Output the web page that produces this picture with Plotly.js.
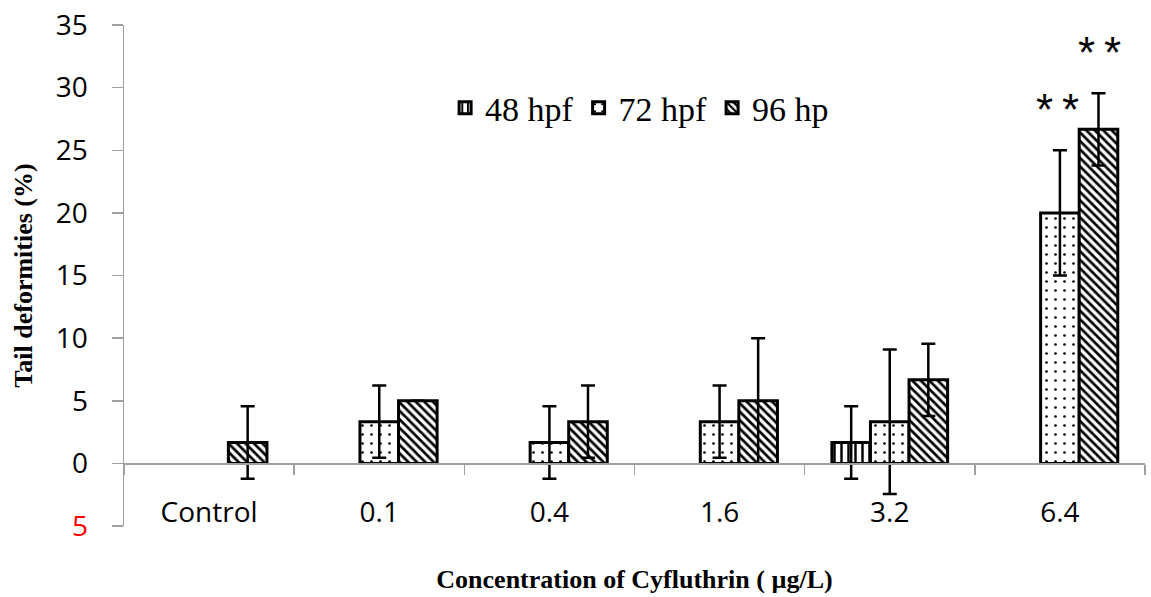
<!DOCTYPE html>
<html>
<head>
<meta charset="utf-8">
<script src="https://cdn.plot.ly/plotly-3.0.1.min.js"></script>
<style>html,body{margin:0;padding:0;background:#fff;}#chart{width:1151px;height:597px;}</style>
</head>
<body>
<div id="chart"></div>
<script>
// ---- data ----
const categories = ["Control", "0.1", "0.4", "1.6", "3.2", "6.4"];
const seriesNames = ["48 hpf", "72 hpf", "96 hp"];
const hpf48 = [0, 0, 0, 0, 1.67, 0];
const hpf72 = [0, 3.33, 1.67, 3.33, 3.33, 20];
const hpf96 = [1.67, 5, 3.33, 5, 6.67, 26.67];
const err48 = [null, null, null, null, 2.89, null];
const err72 = [null, 2.89, 2.89, 2.89, 5.77, 5];
const err96 = [2.89, null, 2.89, 5, 2.89, 2.89];
const yTickVals = [-5, 0, 5, 10, 15, 20, 25, 30, 35];
const yTickText = ['<span style="color:#ff0000">5</span>', "0", "5", "10", "15", "20", "25", "30", "35"];
const sigCategory = ["6.4", "6.4"];
const sigSeries = [1, 2];
const sigText = ["*\u2009*", "*\u2009*"];

const patterns = [
  {shape: "|", size: 7, solidity: 0.35, fgcolor: "#000", bgcolor: "#fff", fillmode: "replace"},
  {shape: ".", size: 9, solidity: 0.07, fgcolor: "#000", bgcolor: "#fff", fillmode: "replace"},
  {shape: "\\", size: 6, solidity: 0.45, fgcolor: "#000", bgcolor: "#fff", fillmode: "replace"}
];
const values = [hpf48, hpf72, hpf96];
const errs = [err48, err72, err96];

const traces = values.map((vals, i) => ({
  type: "bar",
  name: seriesNames[i],
  x: categories,
  // a 0 % value draws no bar in the reference
  y: vals.map(v => v > 0 ? v : null),
  marker: {
    color: "#fff",
    pattern: patterns[i],
    line: {color: "#000", width: 3}
  },
  error_y: {type: "data", array: errs[i], visible: true, color: "#000", thickness: 2.5, width: 7},
  hoverinfo: "x+y"
}));

const nSeries = values.length;
const annotations = sigText.map((t, k) => {
  const s = sigSeries[k];
  const ci = categories.indexOf(sigCategory[k]);
  const v = values[s][ci] + (errs[s][ci] || 0);
  return {
    x: ci, y: v, xref: "x", yref: "y",
    text: t, showarrow: false, yanchor: "middle",
    xshift: (s - (nSeries - 1) / 2) * 42 - 2, yshift: 41,
    font: {family: "Liberation Sans, Arial, sans-serif", size: 44, color: "#000"}
  };
});

const layout = {
  width: 1151, height: 597,
  margin: {l: 124, r: 6, t: 25, b: 71},
  paper_bgcolor: "#fff", plot_bgcolor: "#fff",
  barmode: "group", bargap: 0.32, bargroupgap: 0,
  showlegend: true,
  legend: {
    orientation: "h", x: 0.505, xanchor: "center", y: 0.834, yanchor: "middle",
    font: {family: "Liberation Serif, Times New Roman, serif", size: 34, color: "#000"},
    bgcolor: "rgba(0,0,0,0)", itemwidth: 30, tracegroupgap: 0
  },
  xaxis: {
    type: "category",
    range: [-0.5, categories.length - 0.5],
    anchor: "free", position: 0.125,
    showline: true, linecolor: "#a0a0a0", linewidth: 1.5,
    ticks: "outside", tickson: "boundaries", ticklen: 10, tickcolor: "#a0a0a0", tickwidth: 1.5,
    showgrid: false, zeroline: false,
    ticklabelstandoff: 24,
    tickfont: {family: "Open Sans, Noto Sans, sans-serif", size: 28, color: "#000"},
    title: {text: "<b>Concentration of Cyfluthrin ( µg/L)</b>", standoff: 40,
      font: {family: "Liberation Serif, Times New Roman, serif", size: 26, color: "#000"}}
  },
  yaxis: {
    range: [-5, 35], tickvals: yTickVals, ticktext: yTickText,
    showline: true, linecolor: "#a0a0a0", linewidth: 1.5,
    ticks: "outside", ticklen: 11, tickcolor: "#a0a0a0", tickwidth: 1.5,
    showgrid: false, zeroline: false,
    ticklabelstandoff: 18,
    tickfont: {family: "Open Sans, Noto Sans, sans-serif", size: 28, color: "#000"},
    title: {text: "<b>Tail deformities (%)</b>", standoff: 16,
      font: {family: "Liberation Serif, Times New Roman, serif", size: 26, color: "#000"}}
  },
  annotations: annotations
};

Plotly.newPlot("chart", traces, layout, {displayModeBar: false, staticPlot: true});
</script>
</body>
</html>
